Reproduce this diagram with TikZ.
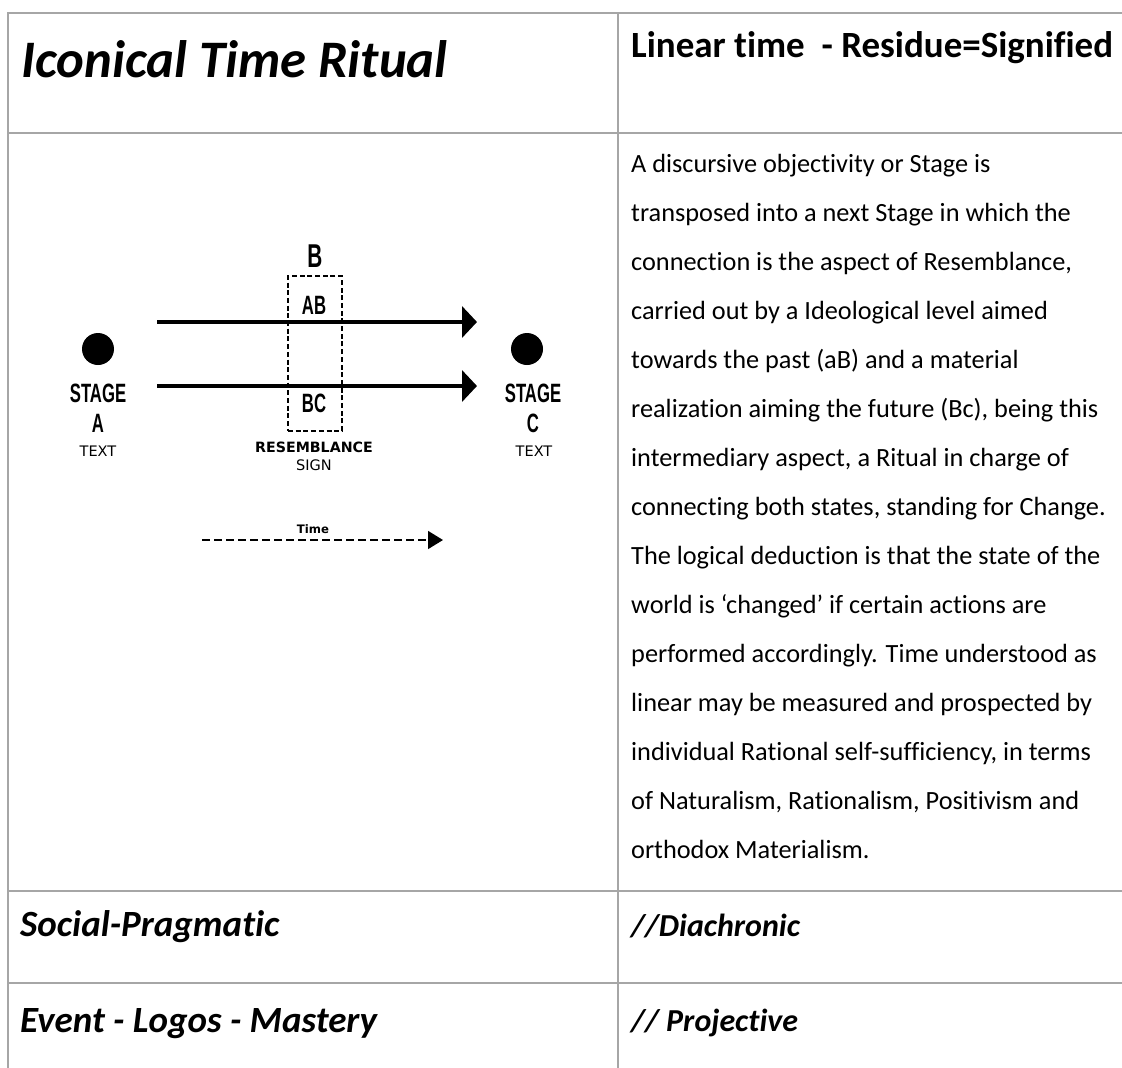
\documentclass[tikz,border=0pt]{standalone}
\usepackage{fontspec}
\setmainfont{Carlito}[Ligatures=NoCommon]
\newfontfamily\stagefont[FakeStretch=0.63]{Liberation Sans}
\newfontfamily\verdanafont{DejaVu Sans}
\usetikzlibrary{arrows.meta}
\definecolor{gridgray}{RGB}{166,166,166}

\begin{document}
\begin{tikzpicture}[x=1pt,y=-1pt,
  tableline/.style={draw=gridgray,line width=2.5pt},
  rowhead/.style={anchor=base west,inner sep=0pt,font=\bfseries\itshape\fontsize{#1}{#1}\selectfont},
  stagetext/.style={inner sep=0pt,align=center,font=\stagefont\bfseries\fontsize{26.5}{30}\selectfont},
  smalltext/.style={inner sep=0pt,anchor=base,font=\verdanafont\fontsize{14.5}{16}\selectfont},
  dot/.style={circle,fill=black,minimum size=32pt,inner sep=0pt},
  flowarrow/.style={line width=4pt,-{Triangle[length=15pt,width=31pt]}}]
\useasboundingbox (0,0) rectangle (1122,1068);
\draw[tableline] (8,1068) -- (8,13) -- (1122,13);
\draw[tableline] (618,13) -- (618,1068);
\foreach \y in {133,891,983}
  \draw[tableline] (8,\y) -- (1122,\y);

\node (title) [rowhead=52.7] at (21,77) {Iconical Time Ritual};
\node (linear) [anchor=base west,inner sep=0pt,font=\bfseries\fontsize{37}{37}\selectfont] at (631,57) {Linear time~ - Residue=Signified};
\node (social) [rowhead=37] at (20,936) {Social-Pragmatic};
\node (event) [rowhead=37] at (20,1032) {Event - Logos - Mastery};
\node (diachronic) [rowhead=32] at (631,936) {//Diachronic};
\node (projective) [rowhead=32] at (631,1031) {// Projective};

\node (desc) [anchor=base west,inner sep=0pt,font=\fontsize{26.3}{49}\selectfont] at (631,172) {\parbox[t]{485pt}{\raggedright
A discursive objectivity or Stage is\\
transposed into a next Stage in which the\\
connection is the aspect of Resemblance,\\
carried out by a Ideological level aimed\\
towards the past (aB) and a material\\
realization aiming the future (Bc), being this\\
intermediary aspect, a Ritual in charge of\\
connecting both states, standing for Change.\\
The logical deduction is that the state of the\\
world is ‘changed’ if certain actions are\\
performed accordingly. Time understood as\\
linear may be measured and prospected by\\
individual Rational self-sufficiency, in terms\\
of Naturalism, Rationalism, Positivism and\\
orthodox Materialism.}};

\node (stageA) [dot] at (98,349) {};
\node (stageC) [dot] at (527,349) {};
\node (stageAlbl) [stagetext,anchor=north] at (98,383.5) {STAGE\\A};
\node (stageClbl) [stagetext,anchor=north] at (533,383.5) {STAGE\\C};
\node (textA) [smalltext] at (98,456) {TEXT};
\node (textC) [smalltext] at (534,456) {TEXT};

\node (signbox) [draw,line width=1.2pt,dash pattern=on 5pt off 2.7pt,minimum width=54pt,minimum height=155pt,inner sep=0pt] at (315,353.5) {};
\node (B) [stagetext,anchor=base,font=\stagefont\bfseries\fontsize{33}{36}\selectfont] at (315,267) {B};
\node (AB) [stagetext,anchor=base] at (314,314.5) {AB};
\node (BC) [stagetext,anchor=base] at (314,412.5) {BC};
\node (resemblance) [smalltext,font=\verdanafont\bfseries\fontsize{14.2}{16}\selectfont] at (314,452) {RESEMBLANCE};
\node (sign) [smalltext] at (314,470) {SIGN};

\coordinate (abfrom) at (157,322);
\coordinate (abto) at (477,322);
\coordinate (bcfrom) at (157,386);
\coordinate (bcto) at (477,386);
\draw[flowarrow] (abfrom) -- (abto);
\draw[flowarrow] (bcfrom) -- (bcto);

\node (time) [smalltext,font=\verdanafont\bfseries\fontsize{11.7}{13}\selectfont] at (313,533) {Time};
\coordinate (timefrom) at (202,540);
\coordinate (timeto) at (443,540);
\draw[line width=1.5pt,dash pattern=on 8pt off 4pt,-{Triangle[length=15pt,width=18pt]}] (timefrom) -- (timeto);
\end{tikzpicture}
\end{document}
